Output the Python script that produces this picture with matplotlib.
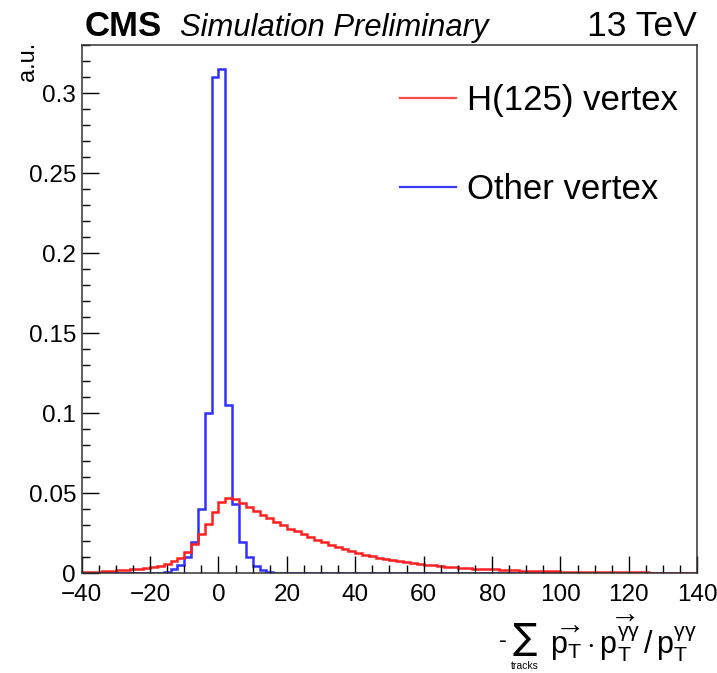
import numpy as np
import matplotlib
matplotlib.use("Agg")
from matplotlib import pyplot as plt
from matplotlib.ticker import MultipleLocator, FixedLocator, FixedFormatter
from matplotlib.lines import Line2D

plt.rcParams['font.family'] = ['Liberation Sans', 'DejaVu Sans']
plt.rcParams['mathtext.fontset'] = 'custom'
plt.rcParams['mathtext.rm'] = 'Liberation Sans'
plt.rcParams['mathtext.it'] = 'Liberation Sans:italic'

# histogram binning, 2 units per bin
x_lo, x_hi, bin_w = -40, 140, 2

# Other vertex (blue), bins from -40 to 140
other_vtx = [0, 0, 0, 0, 0, 0, 0, 0, 0, 0,
             0.0002, 0.0005, 0.0010, 0.0025, 0.0052, 0.0104, 0.0198, 0.0405, 0.100, 0.310,
             0.315, 0.105, 0.0434, 0.0198, 0.0104, 0.0046, 0.0020, 0.0008, 0.0004, 0.0002,
             0, 0, 0, 0, 0, 0, 0, 0, 0, 0,
             0, 0, 0, 0, 0, 0, 0, 0, 0, 0,
             0, 0, 0, 0, 0, 0, 0, 0, 0, 0,
             0, 0, 0, 0, 0, 0, 0, 0, 0, 0,
             0, 0, 0, 0, 0, 0, 0, 0, 0, 0,
             0, 0, 0, 0, 0, 0, 0, 0, 0, 0]

# H(125) vertex (red)
higgs_vtx = [0.0009, 0.0010, 0.0011, 0.0013, 0.0015, 0.0018, 0.0021, 0.0024, 0.0028, 0.0033,
             0.0040, 0.0048, 0.0060, 0.0075, 0.0098, 0.0135, 0.0185, 0.0245, 0.0310, 0.0385,
             0.0445, 0.0470, 0.0465, 0.0440, 0.0412, 0.0388, 0.0365, 0.0343, 0.0322, 0.0300,
             0.0280, 0.0262, 0.0244, 0.0226, 0.0209, 0.0193, 0.0178, 0.0164, 0.0151, 0.0139,
             0.0128, 0.0117, 0.0107, 0.0098, 0.0090, 0.0082, 0.0075, 0.0069, 0.0063, 0.0058,
             0.0053, 0.0049, 0.0045, 0.0041, 0.0038, 0.0035, 0.0032, 0.0030, 0.0028, 0.0026,
             0.0024, 0.0022, 0.0020, 0.0019, 0.0017, 0.0016, 0.0015, 0.0014, 0.0013, 0.0012,
             0.0011, 0.0010, 0.0010, 0.0009, 0.0009, 0.0008, 0.0008, 0.0007, 0.0007, 0.0007,
             0.0006, 0.0006, 0.0006, 0.0005, 0.0005, 0.0005, 0.0005, 0.0004, 0.0004, 0.0004]

y_ticks = [0, 0.05, 0.1, 0.15, 0.2, 0.25, 0.3]
y_tick_labels = ['0', '0.05', '0.1', '0.15', '0.2', '0.25', '0.3']
x_ticks = [-40, -20, 0, 20, 40, 60, 80, 100, 120, 140]

edges = np.arange(x_lo, x_hi + bin_w, bin_w)

fig = plt.figure(figsize=(7.17, 6.73), dpi=100)
ax = fig.add_axes([0.1139, 0.1481, 0.8586, 0.7843])

ax.stairs(other_vtx, edges, color='#3030ff', lw=1.8)
ax.stairs(higgs_vtx, edges, color='#ff2020', lw=1.8)

ax.set_xlim(x_lo, x_hi)
ax.set_ylim(0, 0.33)

ax.xaxis.set_major_locator(FixedLocator(x_ticks))
ax.xaxis.set_minor_locator(MultipleLocator(5))
ax.yaxis.set_major_locator(FixedLocator(y_ticks))
ax.yaxis.set_major_formatter(FixedFormatter(y_tick_labels))
ax.yaxis.set_minor_locator(MultipleLocator(0.01))
ax.tick_params(which='both', direction='in', top=False, right=False, labelsize=17.5, width=1)
ax.tick_params(which='major', length=12.5)
ax.tick_params(which='minor', length=6)
ax.tick_params(axis='x', which='major', pad=7.5)
ax.tick_params(axis='y', which='major', pad=4)
for s in ax.spines.values():
    s.set_linewidth(1.1)
    s.set_color('#333333')

# legend
handles = [Line2D([], [], color='#ff4848', lw=1.6), Line2D([], [], color='#3a3aff', lw=1.6)]
ax.legend(handles, ['H(125) vertex', 'Other vertex'], loc='upper left',
          bbox_to_anchor=(400 / 717, 1 - 84 / 673), bbox_transform=fig.transFigure,
          frameon=False, fontsize=25, handlelength=1.6, handletextpad=0.33,
          labelspacing=1.62, borderpad=0, borderaxespad=0)

# header
fig.text(85 / 717, 1 - 36 / 673, 'CMS', fontsize=25, fontweight='bold', va='baseline')
fig.text(180 / 717, 1 - 36 / 673, 'Simulation Preliminary', fontsize=22.3, style='italic', va='baseline')
fig.text(697 / 717, 1 - 36 / 673, '13 TeV', fontsize=25.5, ha='right', va='baseline')

fig.text(28 / 717, 1 - 42 / 673, 'a.u.', fontsize=17, rotation=90, ha='center', va='top')

# x axis title, sum sign drawn large like ROOT
fig.text(503 / 717, 1 - 641 / 673, '-', fontsize=17, ha='center', va='center')
fig.text(525 / 717, 1 - 639 / 673, '\u2211', fontsize=26, ha='center', va='center',
         family=['DejaVu Sans'])
fig.text(525 / 717, 1 - 666 / 673, 'tracks', fontsize=7.5, ha='center', va='center')
fig.text(697 / 717, 1 - 639 / 673,
         r'$\overrightarrow{\mathrm{p_{T}}}\cdot'
         r'\overrightarrow{\mathrm{p_{T}^{\gamma\gamma}}}\,/\,\mathrm{p_{T}^{\gamma\gamma}}$',
         fontsize=22, ha='right', va='center')

plt.savefig('out.png', dpi=100)
